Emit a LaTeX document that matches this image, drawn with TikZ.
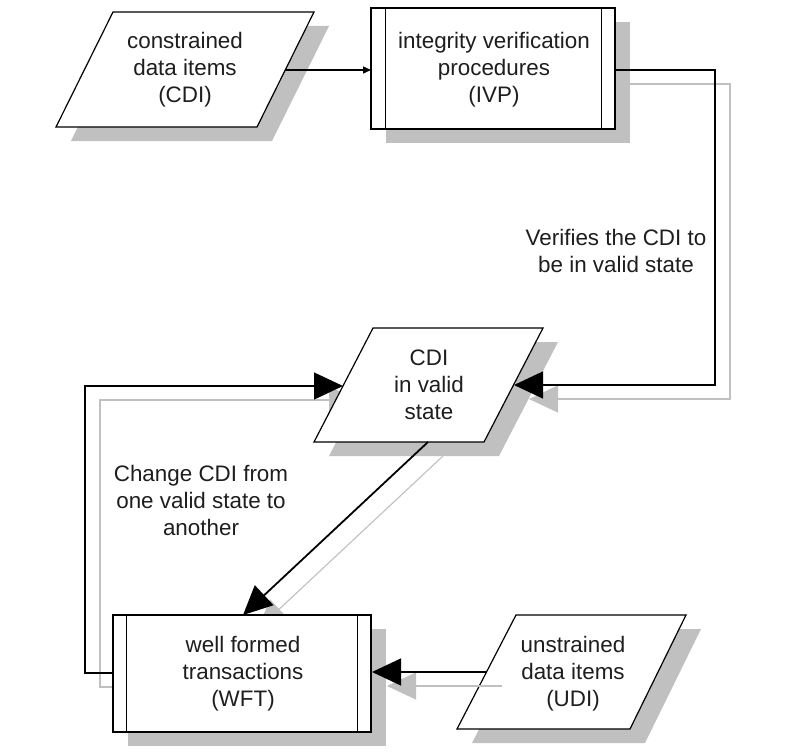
\documentclass[tikz,border=0pt]{standalone}
\usepackage{fontspec}
\setmainfont{Liberation Sans}
\usetikzlibrary{arrows.meta}
\definecolor{shd}{RGB}{192,192,192}
\definecolor{txt}{RGB}{30,30,30}
\begin{document}
\begin{tikzpicture}[x=1pt,y=-1pt,
  lbl/.style={align=center,font=\fontsize{22.4}{27}\selectfont,inner sep=0pt,text=txt},
  box/.style={draw=black,line width=1.2pt,fill=white},
  shadowfill/.style={fill=shd,draw=none},
  conn/.style={draw=black,line width=1.3pt},
  sconn/.style={draw=shd,line width=1.1pt},
  bigtip/.style={-{Triangle[length=29pt,width=27pt]}},
  smalltip/.style={-{Triangle[length=8pt,width=7pt]}},
]
\useasboundingbox (0,0) rectangle (800,752);
\fill[white] (0,0) rectangle (800,752);

% connector end points
\coordinate (cdi-e) at (285,70);
\coordinate (ivp-w) at (371,70);
\coordinate (ivp-e) at (615,70);
\coordinate (cdiv-e) at (514,385);
\coordinate (cdiv-w) at (343,386);
\coordinate (cdiv-s) at (428,442);
\coordinate (wft-n) at (243,615);
\coordinate (wft-w) at (113,673);
\coordinate (wft-e) at (372,672);
\coordinate (udi-w) at (487,672);

% connector shadows
\draw[sconn,bigtip] ([shift={(15,14)}]ivp-e) -- ++(100,0) |- ([shift={(15,14)}]cdiv-e);
\draw[sconn,bigtip] ([shift={(15,14)}]cdiv-s) -- ([shift={(15,14)}]wft-n);
\draw[sconn,bigtip] ([shift={(15,14)}]wft-w) -- ++(-28,0) |- ([shift={(15,14)}]cdiv-w);

% shape shadows
\fill[shadowfill] (113+15,12+14) -- (314+15,12+14) -- (257+15,127+14) -- (56+15,127+14) -- cycle;
\fill[shadowfill] (386,22) rectangle (630,143);
\fill[shadowfill] (373+15,328+14) -- (543+15,328+14) -- (484+15,442+14) -- (314+15,442+14) -- cycle;
\fill[shadowfill] (128,629) rectangle (386,746);
\fill[shadowfill] (516+15,615+14) -- (686+15,615+14) -- (630+15,729+14) -- (457+15,729+14) -- cycle;

% shapes
\draw[box] (113,12) -- (314,12) -- (257,127) -- (56,127) -- cycle;
\node[lbl] (cdi) at (185,70) {constrained\\data items\\(CDI)};

\node[box,minimum width=244pt,minimum height=121pt] (ivp) at (493,68.5) {};
\draw[line width=1.2pt] ([xshift=15pt]ivp.north west) -- ([xshift=15pt]ivp.south west);
\draw[line width=1.2pt] ([xshift=-14pt]ivp.north east) -- ([xshift=-14pt]ivp.south east);
\node[lbl] (ivptext) at (494,70) {integrity verification\\procedures\\(IVP)};

\draw[box] (373,328) -- (543,328) -- (484,442) -- (314,442) -- cycle;
\node[lbl] (cdiv) at (429,385) {CDI\\in valid\\state};

\node[box,minimum width=258pt,minimum height=117pt] (wft) at (242,673.5) {};
\draw[line width=1.2pt] ([xshift=14pt]wft.north west) -- ([xshift=14pt]wft.south west);
\draw[line width=1.2pt] ([xshift=-14pt]wft.north east) -- ([xshift=-14pt]wft.south east);
\node[lbl] (wfttext) at (243,674) {well formed\\transactions\\(WFT)};

\draw[box] (516,615) -- (686,615) -- (630,729) -- (457,729) -- cycle;
\node[lbl] (udi) at (573,674) {unstrained\\data items\\(UDI)};

% shadow of UDI connector (drawn over the UDI shape as in the original)
\draw[sconn,bigtip] ([shift={(15,14)}]udi-w) -- ([shift={(15,14)}]wft-e);

% connectors
\draw[conn,smalltip] (cdi-e) -- (ivp-w);
\draw[conn,bigtip] (ivp-e) -- ++(100,0) |- (cdiv-e);
\draw[conn,bigtip,line width=1.8pt] (cdiv-s) -- (wft-n);
\draw[conn,bigtip] (wft-w) -- ++(-28,0) |- (cdiv-w);
\draw[conn,bigtip] (udi-w) -- (wft-e);

% labels
\node[lbl] (lblverify) at (616,251) {Verifies the CDI to\\be in valid state};
\node[lbl] (lblchange) at (201,500) {Change CDI from\\one valid state to\\another};
\end{tikzpicture}
\end{document}
